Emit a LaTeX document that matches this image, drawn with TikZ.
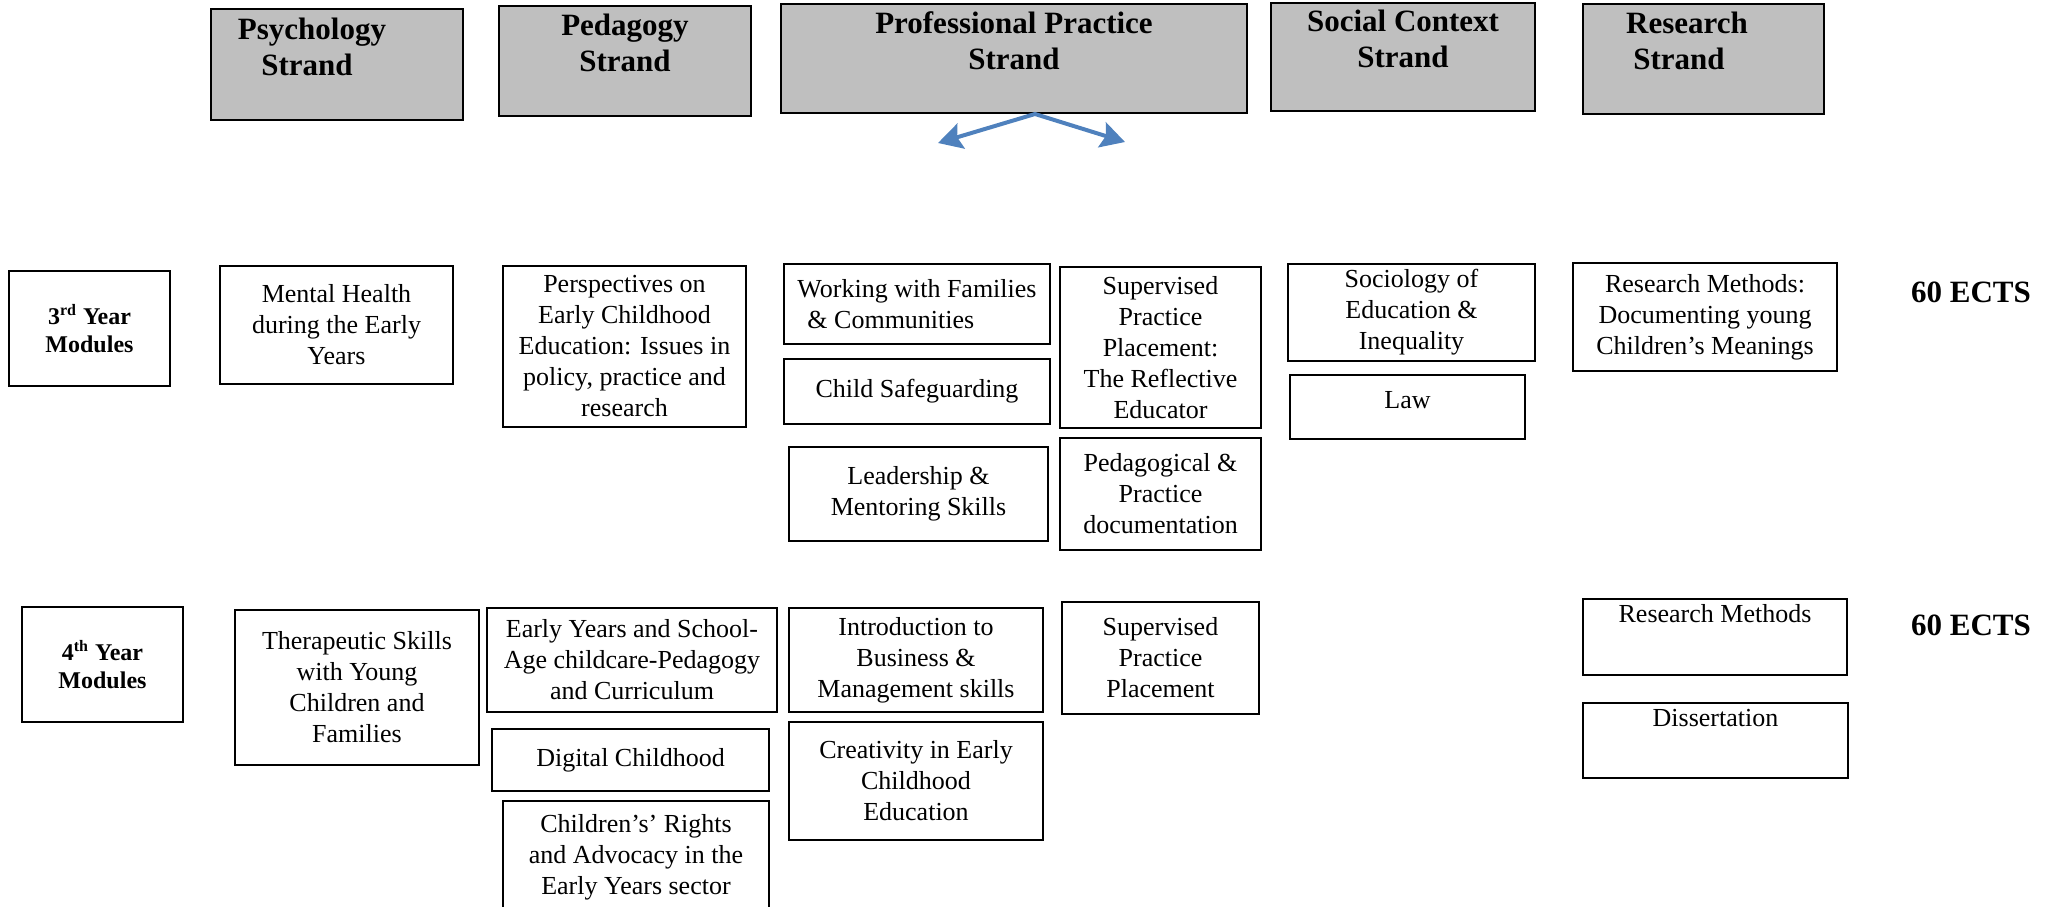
\documentclass[tikz,border=0pt]{standalone}
\usepackage{fontspec}
\setmainfont{Liberation Serif}
\usetikzlibrary{arrows.meta}
\definecolor{strandgray}{RGB}{191,191,191}
\definecolor{arrowblue}{RGB}{79,129,189}
\tikzset{
  strand/.style={draw, line width=1pt, fill=strandgray, align=center, inner sep=2pt,
    font=\fontsize{15.5}{18}\selectfont\bfseries},
  yearbox/.style={draw, line width=1pt, align=center, inner sep=2pt,
    minimum width=80.5pt, minimum height=57.5pt, font=\fontsize{12}{14}\selectfont\bfseries},
  module/.style={draw, line width=0.75pt, align=center, inner sep=2pt,
    font=\fontsize{13}{15.5}\selectfont},
  ects/.style={anchor=base, font=\fontsize{15.5}{18}\selectfont\bfseries},
  tip/.style={arrowblue, line width=2pt,
    {Stealth[length=12pt,width=13pt,inset=2pt]}-{Stealth[length=12pt,width=13pt,inset=2pt]}},
}

\begin{document}
\begin{tikzpicture}[x=0.5pt, y=-0.5pt]
  \clip (0,0) rectangle (2060,906);

  % strands
  \node[strand, minimum width=126pt, minimum height=55.5pt] (psy) at (337,64.5) {Psychology\rule{25pt}{0pt}\\Strand\rule{30pt}{0pt}\\~};
  \node[strand, minimum width=126pt, minimum height=55pt] (ped) at (625,61) {Pedagogy\\Strand\\~};
  \node[strand, minimum width=233pt, minimum height=54.5pt] (prof) at (1014,58.5) {Professional Practice\\Strand\\~};
  \node[strand, minimum width=132pt, minimum height=54pt] (soc) at (1403,57) {Social Context\\Strand\\~};
  \node[strand, minimum width=120.5pt, minimum height=55pt] (res) at (1703.5,59) {Research\rule{16.5pt}{0pt}\\Strand\rule{24.5pt}{0pt}\\~};

  \coordinate (apex) at ([xshift=10.5pt]prof.south);
  \coordinate (tipL) at (938,143);
  \coordinate (tipR) at (1125,142);
  \draw[tip] (tipL) -- (apex) -- (tipR);

  % 3rd year
  \node[yearbox] (year3) at (89.5,328.5) {3\textsuperscript{rd} Year\\Modules};
  \node[module, minimum width=116.5pt, minimum height=59pt] (health) at (336.5,325) {Mental Health\\during the Early\\Years};
  \node[module, minimum width=121.5pt, minimum height=80.5pt] (persp) at (624.5,346.5) {Perspectives on\\Early Childhood\\Education: Issues in\\policy, practice and\\research};
  \node[module, align=left, minimum width=133pt, minimum height=40pt] (families) at (917,304) {Working with Families\\\hspace*{5pt}\& Communities};
  \node[module, minimum width=133pt, minimum height=32.5pt] (safe) at (917,391.5) {Child Safeguarding};
  \node[module, minimum width=129.5pt, minimum height=47pt] (lead) at (918.5,494) {Leadership \&\\Mentoring Skills};
  \node[module, minimum width=100.5pt, minimum height=80.5pt] (place3) at (1160.5,347.5) {Supervised\\Practice\\Placement:\\The Reflective\\Educator};
  \node[module, minimum width=100.5pt, minimum height=56pt] (pdoc) at (1160.5,494) {Pedagogical \&\\Practice\\documentation};
  \node[module, minimum width=123.5pt, minimum height=48.5pt] (socio) at (1411.5,312.5) {Sociology of\\Education \&\\Inequality};
  \node[module, anchor=north, minimum width=117.5pt, text height=15pt, text depth=13pt] (law) at (1407.5,374) {Law};
  \node[module, minimum width=132pt, minimum height=54pt] (rm3) at (1705,317) {Research Methods:\\Documenting young\\Children’s Meanings};
  \node[ects] (ects3) at (1971,302) {60 ECTS};

  % 4th year
  \node[yearbox] (year4) at (102.5,664.5) {4\textsuperscript{th} Year\\Modules};
  \node[module, minimum width=122pt, minimum height=77.5pt] (thera) at (357,687.5) {Therapeutic Skills\\with Young\\Children and\\Families};
  \node[module, minimum width=145pt, minimum height=52pt] (schoolage) at (632,660) {Early Years and School-\\Age childcare-Pedagogy\\and Curriculum};
  \node[module, minimum width=138.5pt, minimum height=31pt] (digital) at (630.5,760) {Digital Childhood};
  \node[module, minimum width=133pt, minimum height=56pt] (rights) at (636,857) {Children’s’ Rights\\and Advocacy in the\\Early Years sector};
  \node[module, minimum width=127pt, minimum height=52pt] (business) at (916,660) {Introduction to\\Business \&\\Management skills};
  \node[module, minimum width=127pt, minimum height=59pt] (creative) at (916,781) {Creativity in Early\\Childhood\\Education};
  \node[module, minimum width=98.5pt, minimum height=56pt] (place4) at (1160.5,658) {Supervised\\Practice\\Placement};
  \node[module, anchor=north, minimum width=132pt, text height=10pt, text depth=24pt] (rm4) at (1715,598) {Research Methods};
  \node[module, anchor=north, minimum width=132.5pt, text height=10pt, text depth=23.5pt] (diss) at (1715.5,702) {Dissertation};
  \node[ects] (ects4) at (1971,635) {60 ECTS};
\end{tikzpicture}
\end{document}
